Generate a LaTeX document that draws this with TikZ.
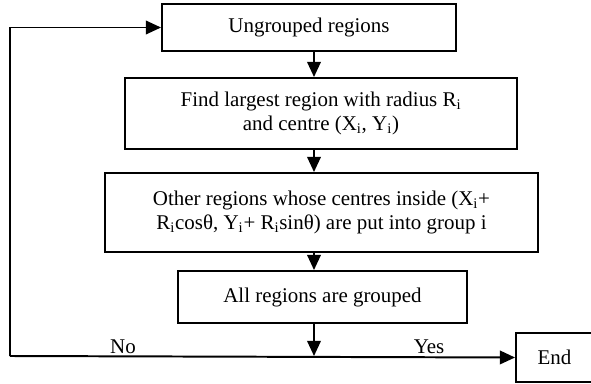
\documentclass[tikz,border=0pt]{standalone}
\usepackage{fontspec}
\setmainfont{Liberation Serif}
\usepackage{tikz}
\usetikzlibrary{positioning,arrows.meta,calc}

\tikzset{
  stepbox/.style={draw, line width=1.4pt, inner sep=0pt, align=center,
    font=\fontsize{14.9}{17.2}\selectfont},
  arr/.style={line width=1.4pt, -{Triangle[length=0.38cm,width=0.34cm]}},
  lbl/.style={anchor=south, inner sep=1.5pt, font=\fontsize{14.9}{17.2}\selectfont}
}

\begin{document}
\begin{tikzpicture}
  \useasboundingbox (0,0) rectangle (14.775,9.575);
  % boxes
  \node[stepbox, minimum width=7.35cm, minimum height=1.175cm] (ungrouped) at (7.725,8.8875) {Ungrouped regions};
  \node[stepbox, minimum width=9.8cm, minimum height=1.775cm] (largest) at (8.025,6.7375)
    {Find largest region with radius R\textsubscript{i}\\ and centre (X\textsubscript{i}, Y\textsubscript{i})};
  \node[stepbox, minimum width=10.825cm, minimum height=1.975cm] (others) at (8.0375,4.2625)
    {Other regions whose centres inside (X\textsubscript{i}+\\ R\textsubscript{i}cosθ, Y\textsubscript{i}+ R\textsubscript{i}sinθ) are put into group i};
  \node[stepbox, minimum width=7.225cm, minimum height=1.3cm] (allgrouped) at (8.0625,2.15) {All regions are grouped};
  \node[stepbox, minimum width=1.925cm, minimum height=1.225cm] (end) at (13.8625,0.6375) {End};

  \coordinate (spine) at (7.85,0);
  \coordinate (join) at (7.85,0.675);
  \coordinate (corner) at (0.25,0.675);

  % arrows
  \draw[arr] (ungrouped.south -| spine) -- (largest.north -| spine);
  \draw[arr] (largest.south -| spine) -- (others.north -| spine);
  \draw[arr] (others.south -| spine) -- (allgrouped.north -| spine);
  \draw[arr] (allgrouped.south -| spine) -- (join);
  \draw[arr] (corner) -- (end.west);
  \draw[arr] (corner) |- (ungrouped.west);

  \node[lbl] (no) at (3.075,0.675) {No};
  \node[lbl] (yes) at (10.725,0.675) {Yes};
\end{tikzpicture}
\end{document}
